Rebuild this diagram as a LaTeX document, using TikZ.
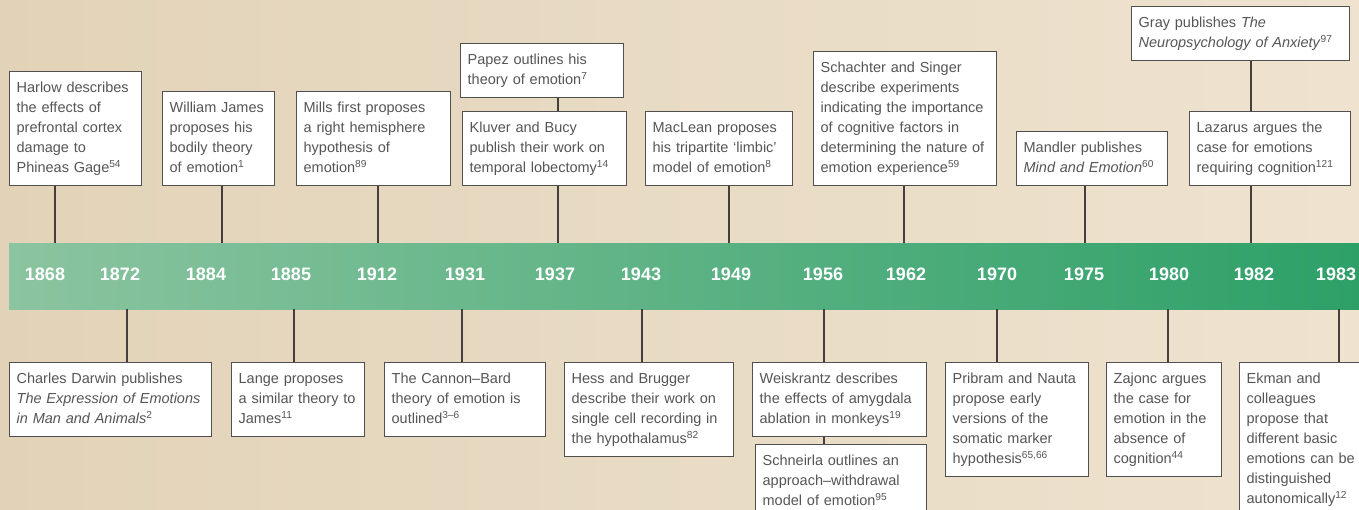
\documentclass[tikz,border=0pt]{standalone}
\usepackage{fontspec}
\setmainfont{Liberation Sans}

\definecolor{fondgauche}{RGB}{226,211,184}
\definecolor{fonddroite}{RGB}{239,227,208}
\definecolor{bandegauche}{RGB}{139,196,160}
\definecolor{bandedroite}{RGB}{45,160,104}
\definecolor{boxgris}{RGB}{80,80,80}
\definecolor{textgris}{RGB}{85,85,85}
\definecolor{liengris}{RGB}{70,62,60}

\tikzset{
  evt/.style={draw=boxgris, line width=1.3pt, fill=white, align=left,
    inner xsep=7pt, inner ysep=7pt, text=textgris,
    font=\fontsize{14.5}{20}\selectfont,
    execute at begin node=\strut, execute at end node=\strut},
  annee/.style={text=white, font=\fontsize{18}{18}\selectfont\bfseries},
  lien/.style={draw=liengris, line width=1.3pt}
}

\begin{document}
\begin{tikzpicture}[x=1pt,y=-1pt]

%%%%%%%%%%%%%%%%%%%%%%
%%%	 Def géométrie  %%%
%%%%%%%%%%%%%%%%%%%%%%

\def \largeur{1359}
\def \hauteur{509}
\def \bandehaut{243}
\def \bandebas{309}
\def \basboites{186}
\def \hautboites{362}

%%%%%%%%%%%%%%%%%%%%%%
%%%	    Fond        %%%
%%%%%%%%%%%%%%%%%%%%%%

\useasboundingbox (0,0) rectangle (\largeur,\hauteur);
\clip (0,0) rectangle (\largeur,\hauteur);
\shade[left color=fondgauche, right color=fonddroite] (0,0) rectangle (\largeur,\hauteur);
\shade[left color=bandegauche, right color=bandedroite] (9,\bandehaut) rectangle (\largeur,\bandebas);

%%%%%%%%%%%%%%%%%%%%%%
%%%	    Années      %%%
%%%%%%%%%%%%%%%%%%%%%%

\node[annee] (a1868) at (45,274) {1868};
\node[annee] (a1872) at (120,274) {1872};
\node[annee] (a1884) at (206,274) {1884};
\node[annee] (a1885) at (291,274) {1885};
\node[annee] (a1912) at (377,274) {1912};
\node[annee] (a1931) at (465,274) {1931};
\node[annee] (a1937) at (555,274) {1937};
\node[annee] (a1943) at (641,274) {1943};
\node[annee] (a1949) at (731,274) {1949};
\node[annee] (a1956) at (823,274) {1956};
\node[annee] (a1962) at (906,274) {1962};
\node[annee] (a1970) at (997,274) {1970};
\node[annee] (a1975) at (1084,274) {1975};
\node[annee] (a1980) at (1169,274) {1980};
\node[annee] (a1982) at (1254,274) {1982};
\node[annee] (a1983) at (1336,274) {1983};

% points d'attache sur la bande
\coordinate (c1868) at (55,\bandehaut);
\coordinate (c1884) at (222,\bandehaut);
\coordinate (c1912) at (378,\bandehaut);
\coordinate (c1937) at (558,\bandehaut);
\coordinate (c1949) at (729,\bandehaut);
\coordinate (c1962) at (904,\bandehaut);
\coordinate (c1975) at (1085,\bandehaut);
\coordinate (c1982) at (1251,\bandehaut);
\coordinate (c1872) at (127,\bandebas);
\coordinate (c1885) at (294,\bandebas);
\coordinate (c1931) at (462,\bandebas);
\coordinate (c1943) at (642,\bandebas);
\coordinate (c1956) at (824,\bandebas);
\coordinate (c1970) at (997,\bandebas);
\coordinate (c1980) at (1168,\bandebas);
\coordinate (c1983) at (1339,\bandebas);

%%%%%%%%%%%%%%%%%%%%%%
%%%	 Boîtes du haut %%%
%%%%%%%%%%%%%%%%%%%%%%

\node[evt, anchor=south west, text width=118] (harlow) at (9,\basboites) {Harlow describes\\the effects of\\prefrontal cortex\\damage to\\Phineas Gage\textsuperscript{54}};
\node[evt, anchor=south west, text width=98] (james) at (162,\basboites) {William James\\proposes his\\bodily theory\\of emotion\textsuperscript{1}};
\node[evt, anchor=south west, text width=140] (mills) at (296,\basboites) {Mills first proposes\\a right hemisphere\\hypothesis of\\emotion\textsuperscript{89}};
\node[evt, anchor=south west, text width=149] (papez) at (460,98) {Papez outlines his\\theory of emotion\textsuperscript{7}};
\node[evt, anchor=south west, text width=150] (kluver) at (462,\basboites) {Kluver and Bucy\\publish their work on\\temporal lobectomy\textsuperscript{14}};
\node[evt, anchor=south west, text width=133] (maclean) at (645,\basboites) {MacLean proposes\\his tripartite ‘limbic’\\model of emotion\textsuperscript{8}};
\node[evt, anchor=south west, text width=169] (schachter) at (813,\basboites) {Schachter and Singer\\describe experiments\\indicating the importance\\of cognitive factors in\\determining the nature of\\emotion experience\textsuperscript{59}};
\node[evt, anchor=south west, text width=137] (mandler) at (1016,\basboites) {Mandler publishes\\\textit{Mind and Emotion}\textsuperscript{60}};
\node[evt, anchor=south west, text width=204] (gray) at (1131,61) {Gray publishes \textit{The}\\\textit{Neuropsychology of Anxiety}\textsuperscript{97}};
\node[evt, anchor=south west, text width=147] (lazarus) at (1189,\basboites) {Lazarus argues the\\case for emotions\\requiring cognition\textsuperscript{121}};

%%%%%%%%%%%%%%%%%%%%%%
%%%	 Boîtes du bas  %%%
%%%%%%%%%%%%%%%%%%%%%%

\node[evt, anchor=north west, text width=188] (darwin) at (9,\hautboites) {Charles Darwin publishes\\\textit{The Expression of Emotions}\\\textit{in Man and Animals}\textsuperscript{2}};
\node[evt, anchor=north west, text width=119] (lange) at (231,\hautboites) {Lange proposes\\a similar theory to\\James\textsuperscript{11}};
\node[evt, anchor=north west, text width=147] (cannon) at (384,\hautboites) {The Cannon–Bard\\theory of emotion is\\outlined\textsuperscript{3–6}};
\node[evt, anchor=north west, text width=155] (hess) at (564,\hautboites) {Hess and Brugger\\describe their work on\\single cell recording in\\the hypothalamus\textsuperscript{82}};
\node[evt, anchor=north west, text width=160] (weiskrantz) at (752,\hautboites) {Weiskrantz describes\\the effects of amygdala\\ablation in monkeys\textsuperscript{19}};
\node[evt, anchor=north west, text width=157] (schneirla) at (755,444) {Schneirla outlines an\\approach–withdrawal\\model of emotion\textsuperscript{95}};
\node[evt, anchor=north west, text width=129] (pribram) at (945,\hautboites) {Pribram and Nauta\\propose early\\versions of the\\somatic marker\\hypothesis\textsuperscript{65,66}};
\node[evt, anchor=north west, text width=101] (zajonc) at (1106,\hautboites) {Zajonc argues\\the case for\\emotion in the\\absence of\\cognition\textsuperscript{44}};
\node[evt, anchor=north west, text width=126] (ekman) at (1239,\hautboites) {Ekman and\\colleagues\\propose that\\different basic\\emotions can be\\distinguished\\autonomically\textsuperscript{12}};

%%%%%%%%%%%%%%%%%%%%%%
%%%	    Liens       %%%
%%%%%%%%%%%%%%%%%%%%%%

% On relie les boîtes du haut à la bande
\draw[lien] (harlow.south -| c1868) -- (c1868);
\draw[lien] (james.south -| c1884) -- (c1884);
\draw[lien] (mills.south -| c1912) -- (c1912);
\draw[lien] (papez.south -| c1937) -- (kluver.north -| c1937);
\draw[lien] (kluver.south -| c1937) -- (c1937);
\draw[lien] (maclean.south -| c1949) -- (c1949);
\draw[lien] (schachter.south -| c1962) -- (c1962);
\draw[lien] (mandler.south -| c1975) -- (c1975);
\draw[lien] (gray.south -| c1982) -- (lazarus.north -| c1982);
\draw[lien] (lazarus.south -| c1982) -- (c1982);

% On relie la bande aux boîtes du bas
\draw[lien] (c1872) -- (darwin.north -| c1872);
\draw[lien] (c1885) -- (lange.north -| c1885);
\draw[lien] (c1931) -- (cannon.north -| c1931);
\draw[lien] (c1943) -- (hess.north -| c1943);
\draw[lien] (c1956) -- (weiskrantz.north -| c1956);
\draw[lien] (weiskrantz.south -| c1956) -- (schneirla.north -| c1956);
\draw[lien] (c1970) -- (pribram.north -| c1970);
\draw[lien] (c1980) -- (zajonc.north -| c1980);
\draw[lien] (c1983) -- (ekman.north -| c1983);

%%%%%%%%%%%%%%%%%%%%%%%%%%%%%%%%%%%%%%%%%

\end{tikzpicture}
\end{document}
